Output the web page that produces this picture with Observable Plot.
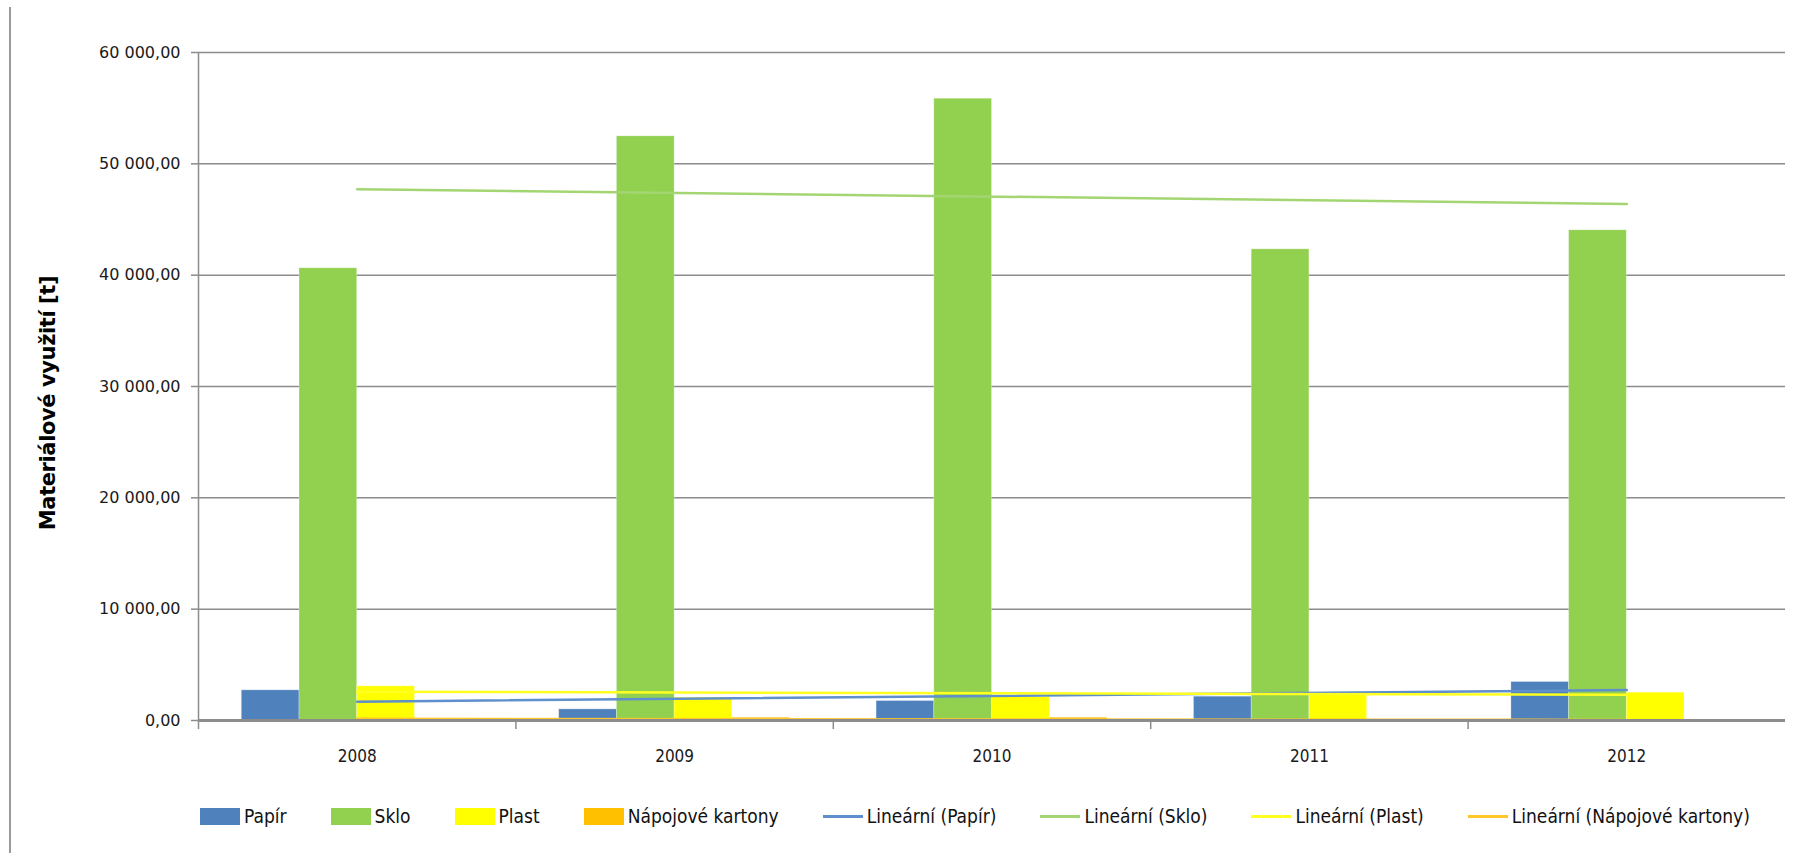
<!DOCTYPE html>
<html>
<head>
<meta charset="utf-8">
<script src="https://cdn.jsdelivr.net/npm/d3@7"></script>
<script src="https://cdn.jsdelivr.net/npm/@observablehq/plot@0.6"></script>
<style>
  html, body { margin: 0; padding: 0; background: #fff; }
  #wrap { position: relative; width: 1794px; height: 853px; overflow: hidden; background: #fff; }
  #border { position: absolute; left: 9px; top: 7px; width: 0; height: 846px; border-left: 2px solid #9a9a9a; }
  #ytitle { position: absolute; left: 48px; top: 403px; transform: translate(-50%, -50%) rotate(-90deg);
    font-family: "DejaVu Sans", Verdana, sans-serif; font-weight: bold; font-size: 21px; color: #000; white-space: nowrap; letter-spacing: -0.4px; }
  #legend { position: absolute; left: 200px; top: 805px; display: flex; align-items: center; gap: 44px;
    font-family: "DejaVu Sans Condensed", "DejaVu Sans", sans-serif; font-stretch: condensed; font-size: 19px; color: #111; white-space: nowrap; }
  .item { display: flex; align-items: center; }
  .sw { width: 40px; height: 17px; margin-right: 4px; }
  .ln { width: 40px; height: 3px; margin-right: 4px; }
</style>
</head>
<body>
<div id="wrap">
  <div id="border"></div>
  <div id="chart"></div>
  <div id="ytitle">Materiálové využití [t]</div>
  <div id="legend"></div>
</div>
<script>
// ---- data ----
const years = [2008, 2009, 2010, 2011, 2012];
const series = ["Papír", "Sklo", "Plast", "Nápojové kartony"];
const papir = [2710, 1000, 1750, 2140, 3460];
const sklo = [40620, 52470, 55850, 42320, 44030];
const plast = [3070, 2050, 2100, 2500, 2500];
const kartony = [0, 250, 250, 0, 0];
const yTicks = [0, 10000, 20000, 30000, 40000, 50000, 60000];
const trendLabels = ["Lineární (Papír)", "Lineární (Sklo)", "Lineární (Plast)", "Lineární (Nápojové kartony)"];

// ---- styles ----
const barColors = ["#4f81bd", "#92d050", "#ffff00", "#ffc000"];
const trendColors = ["#5f8fcc", "#a3d672", "#ffff20", "#ffc72a"];
const gridColor = "#8c8c8c";

const values = [papir, sklo, plast, kartony];
const rows = years.flatMap((yr, i) => series.map((s, j) => ({year: yr, series: s, idx: j, value: values[j][i]})));

// Excel-like clustered columns: 4 bars + gap width 150% per category
const slots = series.length + 1.5;
const x1 = d => d.year - 0.5 + (0.75 + d.idx) / slots;
const x2 = d => d.year - 0.5 + (1.75 + d.idx) / slots;

const boundaries = years.map(y => y - 0.5);
const xDomain = [years[0] - 0.5, years[years.length - 1] + 0.5];

const loc = d3.formatLocale({decimal: ",", thousands: " ", grouping: [3], currency: ["", ""]});
const fmt = loc.format(",.2f");

const plot = Plot.plot({
  width: 1794,
  height: 790,
  marginLeft: 198,
  marginRight: 9,
  marginTop: 52,
  marginBottom: 70,
  style: {fontFamily: "DejaVu Sans, Verdana, sans-serif", background: "transparent", color: "#1a1a1a"},
  x: {domain: xDomain},
  y: {domain: [0, 60000]},
  marks: [
    Plot.gridY(yTicks, {stroke: gridColor, strokeOpacity: 1, strokeWidth: 1.5}),
    Plot.axisY({ticks: yTicks, tickFormat: fmt, tickSize: 7, tickPadding: 11, fontSize: 16, stroke: gridColor, strokeWidth: 1.5, label: null}),
    Plot.rect(rows, {x1, x2, y1: 0, y2: "value", fill: d => barColors[d.idx], stroke: "#ffffff", strokeOpacity: 0.35, strokeWidth: 0.8}),
    ...series.map((s, j) => Plot.linearRegressionY(rows.filter(d => d.idx === j), {
      x: "year", y: "value", ci: 0, stroke: trendColors[j], strokeWidth: 2.5
    })),
    Plot.ruleY([0], {stroke: gridColor, strokeWidth: 3}),
    Plot.ruleX([xDomain[0]], {y1: 0, y2: yTicks[yTicks.length - 1], stroke: gridColor, strokeWidth: 1.5}),
    Plot.axisX({ticks: boundaries, tickSize: 9, tickFormat: () => "", stroke: gridColor, strokeWidth: 1.5, label: null}),
    Plot.axisX({ticks: years, tickSize: 0, tickPadding: 29, tickFormat: d => String(d), fontSize: 17,
      fontFamily: "DejaVu Sans Condensed, DejaVu Sans, sans-serif", label: null})
  ]
});
document.getElementById("chart").appendChild(plot);

// ---- legend ----
const legend = document.getElementById("legend");
series.forEach((s, j) => {
  const it = document.createElement("div"); it.className = "item";
  it.innerHTML = `<div class="sw" style="background:${barColors[j]}"></div><span>${s}</span>`;
  legend.appendChild(it);
});
trendLabels.forEach((s, j) => {
  const it = document.createElement("div"); it.className = "item";
  it.innerHTML = `<div class="ln" style="background:${trendColors[j]}"></div><span>${s}</span>`;
  legend.appendChild(it);
});
</script>
</body>
</html>
